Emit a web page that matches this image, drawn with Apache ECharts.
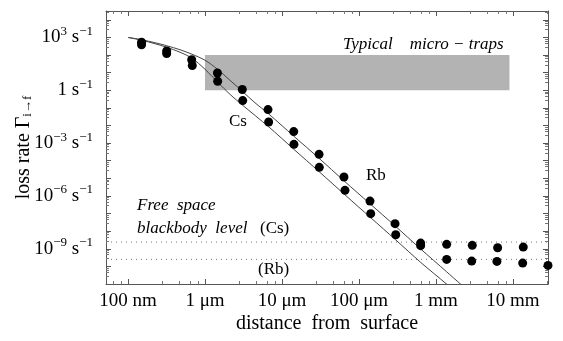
<!DOCTYPE html>
<html>
<head>
<meta charset="utf-8">
<script src="https://cdn.jsdelivr.net/npm/echarts@6/dist/echarts.min.js"></script>
<style>
  html, body { margin: 0; padding: 0; background: #fff; }
  #chart { width: 563px; height: 341px; }
</style>
</head>
<body>
<div id="chart"></div>
<script>
// distances in micrometres, rates in s^-1
var csDist = [0.150, 0.318, 0.672, 1.45, 3.05, 6.58, 14.2, 30.3, 63.8, 139, 294, 632, 1377, 2960, 6320, 13600];
var csRate = [533, 171, 54, 9.6, 1.1, 0.08, 4.5e-3, 2.3e-4, 1.19e-5, 5.1e-7, 2.67e-8, 2.1e-9, 1.78e-9, 1.56e-9, 1.15e-9, 1.25e-9];
var rbDist = [0.150, 0.318, 0.684, 1.46, 3.09, 6.71, 14.3, 30.5, 65.8, 142, 300, 632, 1377, 2910, 6190, 13370, 28500];
var rbRate = [385, 122, 25.3, 3.25, 0.26, 0.0158, 8.5e-4, 4.2e-5, 2.08e-6, 9.9e-8, 6.3e-9, 1.5e-9, 2.5e-10, 2.0e-10, 1.92e-10, 1.54e-10, 1.14e-10];

// theory curves
var csCurveDist = [0.1, 0.1507, 0.2242, 0.318, 0.474, 0.678, 1, 1.453, 2.11, 3.05, 4.46, 6.58, 14.3, 30.3, 63.9, 139, 294, 620, 1377, 2766];
var csCurveRate = [1000, 740, 500, 338, 200, 111, 50.7, 15.6, 3.7, 0.88, 0.195, 0.049, 2.43e-3, 1.37e-4, 7.2e-6, 3.6e-7, 2.0e-8, 1.05e-9, 4.9e-11, 3.3e-12];
var rbCurveDist = [0.1, 0.1507, 0.2242, 0.318, 0.474, 0.678, 1, 1.462, 2.11, 3.09, 6.72, 14.3, 30.5, 65.8, 142, 300, 632, 1390, 1766];
var rbCurveRate = [1000, 693, 438, 277, 144, 65.8, 15.6, 2.85, 0.59, 0.14, 8.4e-3, 4.4e-4, 2.34e-5, 1.15e-6, 5.8e-8, 3.2e-9, 1.7e-10, 9.5e-12, 3.8e-12];

// free space blackbody levels
var csBlackbody = 2.4e-9;
var rbBlackbody = 2.5e-10;

// typical micro-trap region
var trapDist = [1, 9000];
var trapRate = [1, 100];

var xTicks = { '-1': '100 nm', '0': '1 μm', '1': '10 μm', '2': '100 μm', '3': '1 mm', '4': '10 mm' };
var xMin = 0.0518, xMax = 28500;
var yMin = 1e-11, yMax = 31623;

var serif = "'Liberation Serif', 'DejaVu Serif', serif";
var chart = echarts.init(document.getElementById('chart'));

function zip(a, b) {
  return a.map(function (v, i) { return [v, b[i]]; });
}
function decade(v) {
  var l = Math.log10(v);
  var k = Math.round(l);
  return Math.abs(l - k) < 1e-6 ? k : null;
}
function xLabel(v) {
  var k = decade(v);
  return k === null ? '' : (xTicks[k] || '');
}
function yLabel(v) {
  var k = decade(v);
  if (k === null || k % 3 !== 0) return '';
  if (k === 0) return '{b|1 s}{s|−1}';
  return '{b|10}{s|' + (k < 0 ? '−' + (-k) : k) + '}{b| s}{s|−1}';
}
function level(v) {
  return [[xMin, v], [xMax, v]];
}

var axisLine = { lineStyle: { color: '#555', width: 1 } };
var tick = { inside: true, length: 5, lineStyle: { color: '#555' } };
var minor = { show: true, splitNumber: 5, length: 3, lineStyle: { color: '#777' } };
var dotted = { color: '#777', type: [1, 4], width: 1 };

var option = {
  backgroundColor: '#fff',
  animation: false,
  grid: { left: 106, right: 15, top: 11, bottom: 57, outerBoundsMode: 'none', containLabel: false },
  xAxis: [{
    type: 'log', min: xMin, max: xMax,
    name: 'distance  from  surface', nameLocation: 'middle', nameGap: 30, nameMoveOverlap: false,
    nameTextStyle: { fontFamily: serif, fontSize: 20, color: '#000' },
    axisLine: axisLine, axisTick: tick, minorTick: minor, splitLine: { show: false },
    axisLabel: { formatter: xLabel, fontFamily: serif, fontSize: 19, color: '#000', margin: 8 }
  }, {
    type: 'log', position: 'top', min: xMin, max: xMax,
    axisLine: axisLine, axisTick: tick, minorTick: minor, splitLine: { show: false },
    axisLabel: { show: false }
  }],
  yAxis: [{
    type: 'log', min: yMin, max: yMax, interval: 1,
    name: 'loss rate Γ{sub|i→f}', nameLocation: 'middle', nameGap: 72, nameMoveOverlap: false,
    nameTextStyle: {
      fontFamily: serif, fontSize: 20, color: '#000',
      rich: { sub: { fontFamily: serif, fontSize: 13, color: '#000', padding: [8, 0, 0, 0] } }
    },
    axisLine: axisLine, axisTick: tick, minorTick: minor, splitLine: { show: false },
    axisLabel: {
      formatter: yLabel, margin: 13,
      rich: {
        b: { fontFamily: serif, fontSize: 19, color: '#000' },
        s: { fontFamily: serif, fontSize: 13, color: '#000', padding: [0, 0, 12, 0] }
      }
    }
  }, {
    type: 'log', position: 'right', min: yMin, max: yMax, interval: 1,
    axisLine: axisLine, axisTick: tick, minorTick: minor, splitLine: { show: false },
    axisLabel: { show: false }
  }],
  series: [{
    name: 'Cs level', type: 'line', data: level(csBlackbody),
    showSymbol: false, z: 1, lineStyle: dotted
  }, {
    name: 'Rb level', type: 'line', data: level(rbBlackbody),
    showSymbol: false, z: 1, lineStyle: dotted
  }, {
    name: 'Cs theory', type: 'line', data: zip(csCurveDist, csCurveRate),
    smooth: 0.3, showSymbol: false, z: 2,
    lineStyle: { color: '#444', width: 1 },
    markArea: {
      silent: true,
      itemStyle: { color: '#b3b3b3' },
      data: [[{ xAxis: trapDist[0], yAxis: trapRate[0] }, { xAxis: trapDist[1], yAxis: trapRate[1] }]]
    }
  }, {
    name: 'Rb theory', type: 'line', data: zip(rbCurveDist, rbCurveRate),
    smooth: 0.3, showSymbol: false, z: 2,
    lineStyle: { color: '#444', width: 1 }
  }, {
    name: 'Cs', type: 'scatter', data: zip(csDist, csRate),
    symbolSize: 9, itemStyle: { color: '#000', opacity: 1 }, z: 3
  }, {
    name: 'Rb', type: 'scatter', data: zip(rbDist, rbRate),
    symbolSize: 9, itemStyle: { color: '#000', opacity: 1 }, z: 3
  }],
  graphic: [
    { type: 'text', left: 343, top: 36, z: 10,
      style: { text: 'Typical    micro − traps', font: 'italic 17px ' + serif, fill: '#000' } },
    { type: 'text', left: 229, top: 113, z: 10,
      style: { text: 'Cs', font: '17px ' + serif, fill: '#000' } },
    { type: 'text', left: 366, top: 167, z: 10,
      style: { text: 'Rb', font: '17px ' + serif, fill: '#000' } },
    { type: 'text', left: 137, top: 197, z: 10,
      style: { text: 'Free  space', font: 'italic 17px ' + serif, fill: '#000' } },
    { type: 'text', left: 137, top: 220, z: 10,
      style: { text: 'blackbody  level', font: 'italic 17px ' + serif, fill: '#000' } },
    { type: 'text', left: 260, top: 220, z: 10,
      style: { text: '(Cs)', font: '17px ' + serif, fill: '#000' } },
    { type: 'text', left: 258, top: 261, z: 10,
      style: { text: '(Rb)', font: '17px ' + serif, fill: '#000' } }
  ]
};
chart.setOption(option);
</script>
</body>
</html>
